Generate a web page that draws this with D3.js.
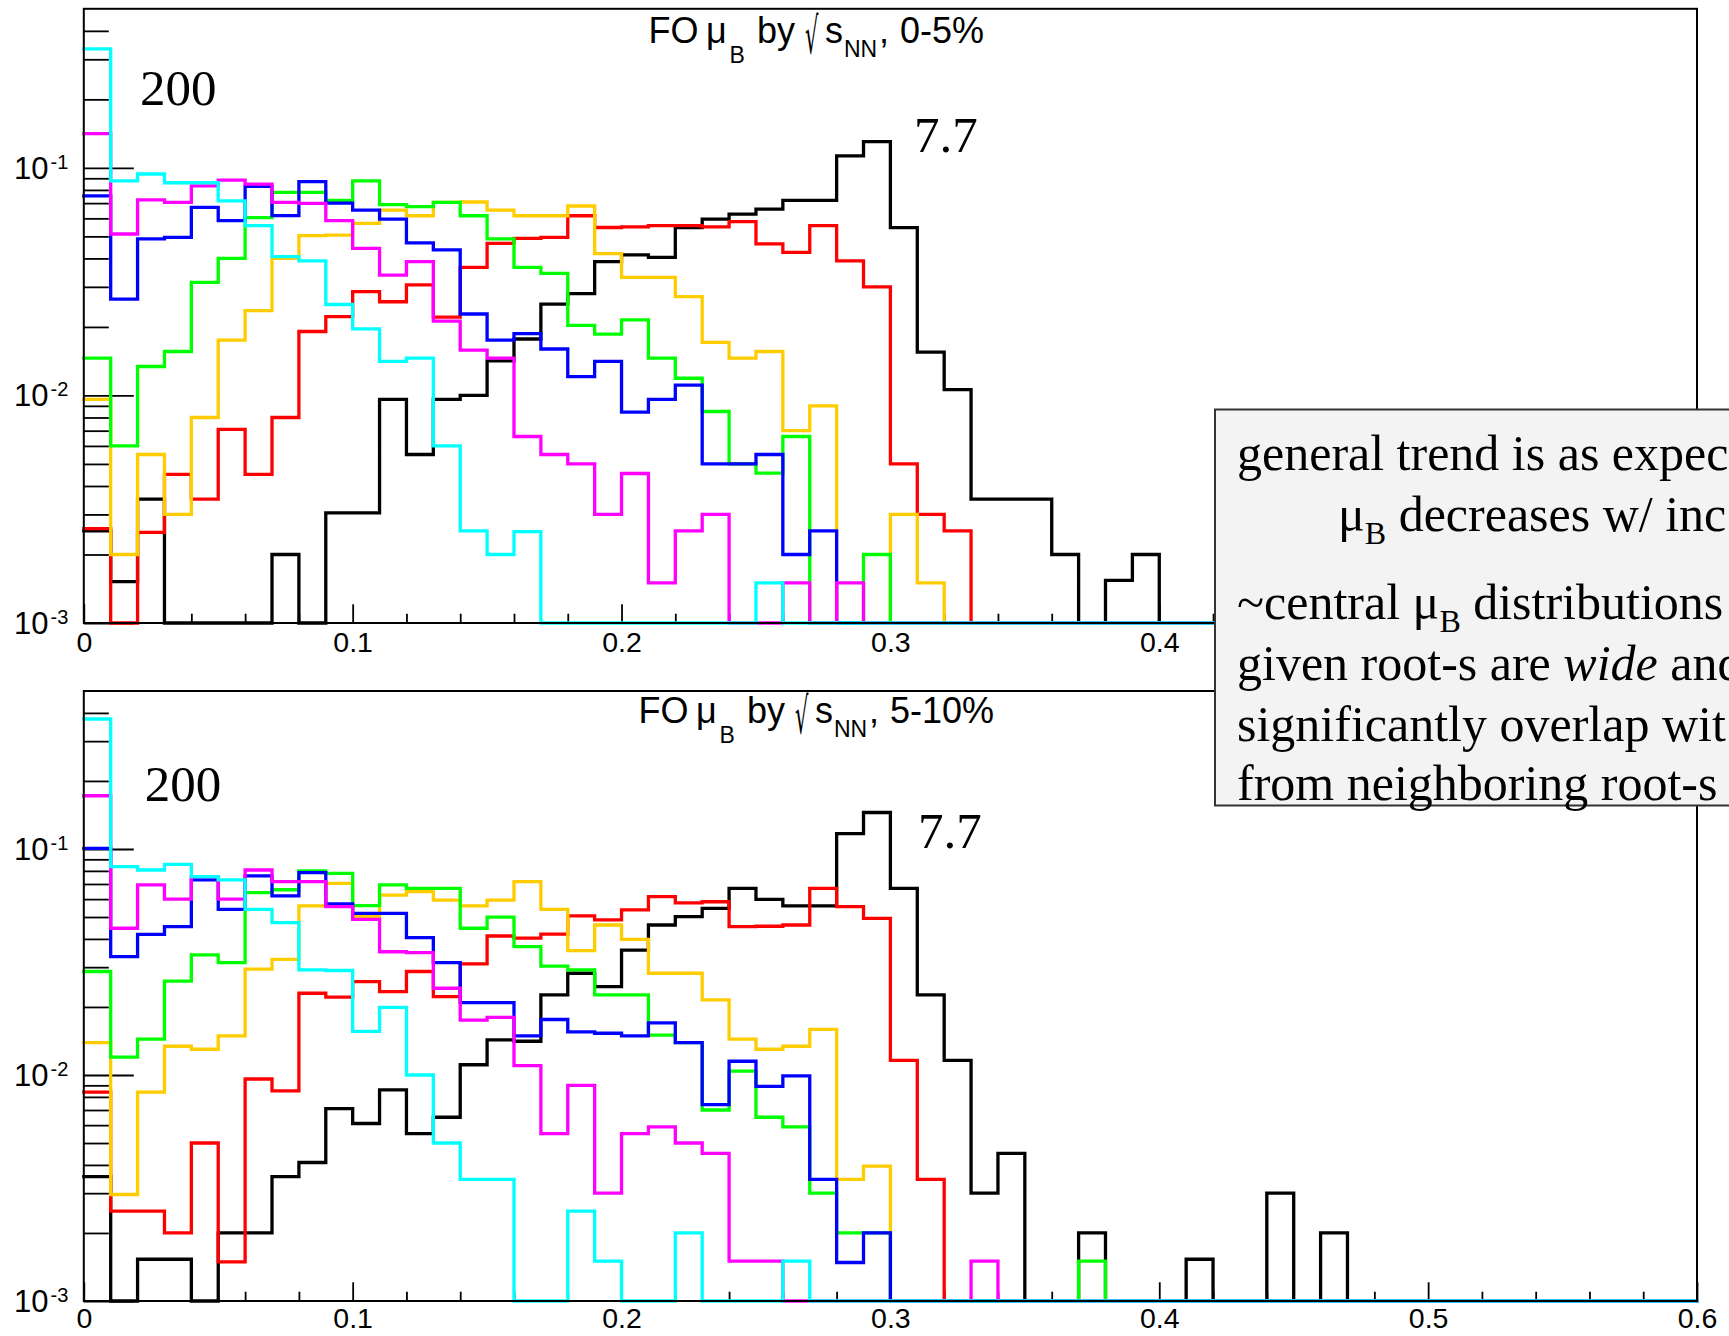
<!DOCTYPE html>
<html>
<head>
<meta charset="utf-8">
<script src="https://cdn.jsdelivr.net/npm/d3@7/dist/d3.min.js"></script>
<style>
html,body{margin:0;padding:0;background:#fff;overflow:hidden;}
svg{display:block;}
</style>
</head>
<body>
<svg id="chart" width="1729" height="1336"></svg>
<script>
// ---------------- data ----------------
const energies = ["7.7","11.5","19.6","27","39","62.4","200"];
const seriesColors = ["#000000","#ff0000","#ffcc00","#00ff00","#0000ff","#ff00ff","#00ffff"];
const binWidth = 0.01;
const xDomain = [0, 0.6];
const yDomain = [0.001, 0.5];
const xMajorTicks = [0, 0.1, 0.2, 0.3, 0.4, 0.5, 0.6];
const xTickLabels = ["0", "0.1", "0.2", "0.3", "0.4", "0.5", "0.6"];
const xMinorTicks = [0.02,0.04,0.06,0.08,0.12,0.14,0.16,0.18,0.22,0.24,0.26,0.28,0.32,0.34,0.36,0.38,0.42,0.44,0.46,0.48,0.52,0.54,0.56,0.58];
const yMajorTicks = [0.001, 0.01, 0.1];
const yTickExponents = ["-3", "-2", "-1"];
const yMinorTicks = [0.002,0.003,0.004,0.005,0.006,0.007,0.008,0.009,0.02,0.03,0.04,0.05,0.06,0.07,0.08,0.09,0.2,0.3,0.4];
const centralityLabels = ["0-5%", "5-10%"];

// 0-5% centrality
const c0005_7p7 = [
 0.00254,0.00152,0.0035,0,0,0,0,0.0020,0,0.00305,
 0.00305,0.0096,0.0055,0.0096,0.010,0.0142,0.0177,0.0252,0.028,0.0387,
 0.0415,0.0404,0.0547,0.0595,0.0626,0.0659,0.072,0.072,0.113,0.1305,
 0.0546,0.0155,0.0106,0.0035,0.0035,0.0035,0.0020,0,0.00154,0.0020,
 0,0,0,0,0,0,0,0,0,0,
 0,0,0,0,0,0,0,0,0,0];
const c0005_11p5 = [
 0.0026,0,0.0025,0.0045,0.0035,0.0071,0.0045,0.0080,0.0191,0.0222,
 0.0286,0.0258,0.0306,0.0221,0.0365,0.0466,0.049,0.0495,0.0616,0.0547,
 0.055,0.0557,0.0557,0.055,0.058,0.0463,0.0425,0.0557,0.039,0.030,
 0.0050,0.0030,0.00254,0,0,0,0,0,0,0,
 0,0,0,0,0,0,0,0,0,0,
 0,0,0,0,0,0,0,0,0,0];
const c0005_19p6 = [
 0.0096,0.0020,0.0055,0.0030,0.0080,0.0175,0.0236,0.040,0.0504,0.0506,
 0.057,0.0652,0.0616,0.0705,0.0708,0.0652,0.0616,0.0616,0.068,0.042,
 0.033,0.033,0.0272,0.0171,0.0146,0.0156,0.0070,0.0090,0,0,
 0.0030,0.0015,0,0,0,0,0,0,0,0,
 0,0,0,0,0,0,0,0,0,0,
 0,0,0,0,0,0,0,0,0,0];
const c0005_27 = [
 0.0146,0.0060,0.0134,0.0156,0.0314,0.040,0.0605,0.078,0.078,0.072,
 0.0877,0.0689,0.0675,0.0705,0.0616,0.0487,0.0365,0.0344,0.0203,0.0186,
 0.0215,0.0146,0.0119,0.0085,0.0050,0.00456,0.0066,0,0,0.0020,
 0,0,0,0,0,0,0,0,0,0,
 0,0,0,0,0,0,0,0,0,0,
 0,0,0,0,0,0,0,0,0,0];
const c0005_39 = [
 0.0753,0.0265,0.0487,0.0495,0.067,0.0586,0.083,0.0617,0.087,0.070,
 0.0652,0.0595,0.0468,0.0436,0.0228,0.0175,0.0187,0.016,0.0121,0.0141,
 0.00845,0.0096,0.0111,0.0050,0.0050,0.0055,0.0020,0.00254,0,0,
 0,0,0,0,0,0,0,0,0,0,
 0,0,0,0,0,0,0,0,0,0,
 0,0,0,0,0,0,0,0,0,0];
const c0005_62p4 = [
 0.1415,0.0512,0.0724,0.0705,0.0834,0.0883,0.0848,0.0705,0.0698,0.0586,
 0.0443,0.0338,0.0387,0.0212,0.0158,0.0146,0.0066,0.0055,0.0050,0.0030,
 0.00454,0.0015,0.00254,0.0030,0,0,0.0015,0,0.0015,0,
 0,0,0,0,0,0,0,0,0,0,
 0,0,0,0,0,0,0,0,0,0,
 0,0,0,0,0,0,0,0,0,0];
const c0005_200 = [
 0.333,0.0877,0.094,0.086,0.086,0.0716,0.0557,0.0407,0.039,0.0251,
 0.0196,0.0141,0.0146,0.0060,0.00254,0.0020,0.00252,0,0,0,
 0,0,0,0,0,0.0015,0,0,0,0,
 0,0,0,0,0,0,0,0,0,0,
 0,0,0,0,0,0,0,0,0,0,
 0,0,0,0,0,0,0,0,0,0];

// 5-10% centrality
const c0510_7p7 = [
 0.00355,0,0.00153,0.00153,0,0.0020,0.0020,0.00355,0.0041,0.0071,
 0.0061,0.0086,0.0055,0.0065,0.0111,0.0143,0.0141,0.0226,0.0282,0.0246,
 0.0357,0.0461,0.0502,0.0546,0.067,0.0598,0.056,0.056,0.117,0.145,
 0.067,0.0226,0.0116,0.0030,0.0045,0,0,0.0020,0,0,
 0,0.00153,0,0,0.0030,0,0.0020,0,0,0,
 0,0,0,0,0,0,0,0,0,0];
const c0510_11p5 = [
 0.0084,0.0025,0.0025,0.0020,0.0050,0.00149,0.0096,0.0085,0.023,0.0221,
 0.0259,0.0234,0.0287,0.0222,0.031,0.0412,0.0403,0.042,0.0506,0.0486,
 0.0538,0.0616,0.0578,0.0584,0.0453,0.0455,0.0461,0.067,0.0556,0.0493,
 0.0116,0.00345,0,0,0,0,0,0,0,0,
 0,0,0,0,0,0,0,0,0,0,
 0,0,0,0,0,0,0,0,0,0];
const c0510_19p6 = [
 0.0139,0.00296,0.0084,0.0134,0.013,0.0149,0.0294,0.0325,0.056,0.0705,
 0.0502,0.0625,0.0647,0.0594,0.056,0.0594,0.0717,0.054,0.0355,0.0461,
 0.0398,0.0282,0.0282,0.0215,0.0144,0.013,0.0134,0.0159,0.00345,0.00395,
 0,0,0,0,0,0,0,0,0,0,
 0,0,0,0,0,0,0,0,0,0,
 0,0,0,0,0,0,0,0,0,0];
const c0510_27 = [
 0.0287,0.012,0.0144,0.026,0.034,0.0314,0.0641,0.066,0.080,0.078,
 0.0561,0.0693,0.067,0.067,0.0446,0.0499,0.037,0.0303,0.0292,0.0226,
 0.0226,0.015,0.0139,0.0070,0.0104,0.0065,0.0059,0.0030,0.0020,0.0020,
 0,0,0,0,0,0,0,0.0015,0,0,
 0,0,0,0,0,0,0,0,0,0,
 0,0,0,0,0,0,0,0,0,0];
const c0510_39 = [
 0.1007,0.0334,0.0419,0.0453,0.073,0.054,0.076,0.062,0.0786,0.0571,
 0.0519,0.0519,0.0405,0.0314,0.0209,0.0209,0.0149,0.0176,0.0155,0.0153,
 0.0149,0.017,0.0139,0.0074,0.0115,0.0089,0.0099,0.00345,0.00148,0.0020,
 0,0,0,0,0,0,0,0,0,0,
 0,0,0,0,0,0,0,0,0,0,
 0,0,0,0,0,0,0,0,0,0];
const c0510_62p4 = [
 0.172,0.0446,0.0693,0.060,0.0755,0.060,0.0807,0.0717,0.0717,0.0556,
 0.0488,0.0351,0.0348,0.0242,0.0175,0.018,0.011,0.0055,0.0090,0.0030,
 0.0055,0.0059,0.0050,0.0045,0.0015,0.0015,0,0,0,0,
 0,0,0,0.0015,0,0,0,0,0,0,
 0,0,0,0,0,0,0,0,0,0,
 0,0,0,0,0,0,0,0,0,0];
const c0510_200 = [
 0.376,0.0836,0.0807,0.0855,0.0755,0.073,0.054,0.0472,0.0292,0.029,
 0.0156,0.0199,0.010,0.0050,0.00345,0.00345,0,0,0.0025,0.0015,
 0,0,0.0020,0,0,0,0.0015,0,0,0,
 0,0,0,0,0,0,0,0,0,0,
 0,0,0,0,0,0,0,0,0,0,
 0,0,0,0,0,0,0,0,0,0];

const noteLines = [
  "general trend is as expec",
  "decreases w/ inc",
  "~central ",
  " distributions",
  "given root-s are ",
  "wide",
  " and",
  "significantly overlap wit",
  "from neighboring root-s"
];

// ---------------- layout ----------------
const SANS = "'Liberation Sans', Arial, Helvetica, sans-serif";
const SERIF = "'Liberation Serif', 'Times New Roman', Times, serif";
const plotLeft = 83.8, plotRight = 1697;
const panels = [
  { top: 8.8, bottom: 623, series: [c0005_7p7,c0005_11p5,c0005_19p6,c0005_27,c0005_39,c0005_62p4,c0005_200],
    titleX: 648.5, titleY: 43, cent: centralityLabels[0], lab200: [140, 105], lab77: [914, 152],
    shownLabels: 5, labelPad: 9 },
  { top: 691, bottom: 1301, series: [c0510_7p7,c0510_11p5,c0510_19p6,c0510_27,c0510_39,c0510_62p4,c0510_200],
    titleX: 638.5, titleY: 723.3, cent: centralityLabels[1], lab200: [144.7, 800.5], lab77: [918, 848],
    shownLabels: 7, labelPad: 7 }
];

const svg = d3.select("#chart");

panels.forEach(p => {
  const x = d3.scaleLinear().domain(xDomain).range([plotLeft, plotRight]);
  const y = d3.scaleLog().domain(yDomain).range([p.bottom, p.top]).clamp(true);
  const g = svg.append("g");

  // x axis: major ticks (labelled where visible) + minor ticks, all pointing inward
  const xAx = g.append("g").attr("transform", `translate(0,${p.bottom})`)
    .call(d3.axisBottom(x).tickValues(xMajorTicks).tickSize(-18.7).tickPadding(p.labelPad)
      .tickFormat((d, i) => i < p.shownLabels ? xTickLabels[i] : ""));
  xAx.select(".domain").remove();
  xAx.selectAll("line").attr("stroke", "#000").attr("stroke-width", 1.8);
  xAx.selectAll("text").attr("font-family", SANS).attr("font-size", 28.5).attr("fill", "#000");
  xAx.selectAll("text").filter(function () { return this.textContent === ""; }).remove();
  const xAxm = g.append("g").attr("transform", `translate(0,${p.bottom})`)
    .call(d3.axisBottom(x).tickValues(xMinorTicks).tickSize(-9.3).tickFormat(""));
  xAxm.select(".domain").remove();
  xAxm.selectAll("text").remove();
  xAxm.selectAll("line").attr("stroke", "#000").attr("stroke-width", 1.8);

  // y axis: major + minor ticks
  const yAx = g.append("g").attr("transform", `translate(${plotLeft},0)`)
    .call(d3.axisLeft(y).tickValues(yMajorTicks).tickSize(-50).tickFormat(""));
  yAx.select(".domain").remove();
  yAx.selectAll("text").remove();
  yAx.selectAll("line").attr("stroke", "#000").attr("stroke-width", 1.8);
  const yAxm = g.append("g").attr("transform", `translate(${plotLeft},0)`)
    .call(d3.axisLeft(y).tickValues(yMinorTicks).tickSize(-25).tickFormat(""));
  yAxm.select(".domain").remove();
  yAxm.selectAll("text").remove();
  yAxm.selectAll("line").attr("stroke", "#000").attr("stroke-width", 1.8);

  // y labels 10^n
  yMajorTicks.forEach((v, i) => {
    const t = g.append("text").attr("font-family", SANS).attr("fill", "#000");
    t.append("tspan").attr("x", 14).attr("y", y(v) + 11).attr("font-size", 31).text("10");
    t.append("tspan").attr("x", 50.5).attr("y", y(v) + 1).attr("font-size", 20).text(yTickExponents[i]);
  });

  // histograms (drawn in order 7.7 ... 200)
  const line = d3.line()
    .x(d => x(d[0]))
    .y(d => y(d[1] > 0 ? d[1] : yDomain[0]))
    .curve(d3.curveStepAfter);
  p.series.forEach((vals, si) => {
    const pts = vals.map((v, i) => [i * binWidth, v]);
    pts.push([vals.length * binWidth, vals[vals.length - 1]]);
    g.append("path").attr("d", line(pts))
      .attr("fill", "none").attr("stroke", seriesColors[si])
      .attr("stroke-width", 3.3).attr("stroke-linejoin", "miter").attr("stroke-linecap", "square");
  });

  // frame
  g.append("rect").attr("x", plotLeft).attr("y", p.top)
    .attr("width", plotRight - plotLeft).attr("height", p.bottom - p.top)
    .attr("fill", "none").attr("stroke", "#000").attr("stroke-width", 2);

  // title: FO mu_B by sqrt(s_NN), cent
  const tx = p.titleX - 648.5, ty = p.titleY;
  const title = g.append("text").attr("font-family", SANS).attr("fill", "#000").attr("font-size", 36);
  title.append("tspan").attr("x", 648.5 + tx).attr("y", ty).text("FO");
  title.append("tspan").attr("x", 706 + tx).attr("y", ty).text("μ");
  title.append("tspan").attr("x", 729.5 + tx).attr("y", ty + 20).attr("font-size", 23).text("B");
  title.append("tspan").attr("x", 757 + tx).attr("y", ty).text("by");
  title.append("tspan").attr("x", 825 + tx).attr("y", ty).text("s");
  title.append("tspan").attr("x", 844 + tx).attr("y", ty + 14).attr("font-size", 23).text("NN");
  title.append("tspan").attr("x", 879 + tx).attr("y", ty).text(",");
  title.append("tspan").attr("x", 900 + tx).attr("y", ty).text(p.cent);
  g.append("text").attr("font-family", "'DejaVu Sans', sans-serif").attr("font-size", 50).attr("fill", "#000")
    .attr("transform", `translate(${805 + tx},${ty + 10}) scale(0.42,1)`).text("√");

  // energy labels
  g.append("text").attr("x", p.lab200[0]).attr("y", p.lab200[1])
    .attr("font-family", SERIF).attr("font-size", 51).attr("fill", "#000").text(energies[6]);
  g.append("text").attr("x", p.lab77[0]).attr("y", p.lab77[1])
    .attr("font-family", SERIF).attr("font-size", 51).attr("fill", "#000").text(energies[0]);
});

// ---------------- annotation box ----------------
const box = svg.append("g");
box.append("rect").attr("x", 1215).attr("y", 409.5).attr("width", 600).attr("height", 396)
  .attr("fill", "#f3f3f3").attr("stroke", "#333").attr("stroke-width", 2);
const tf = { "font-family": SERIF, "font-size": 50, "fill": "#000" };
function tline(xp, yp) {
  const t = box.append("text").attr("x", xp).attr("y", yp);
  Object.entries(tf).forEach(([k, v]) => t.attr(k, v));
  return t;
}
tline(1237, 470).text(noteLines[0]);
{
  const t = tline(1338, 531);
  t.append("tspan").text("μ");
  t.append("tspan").attr("dy", 13).attr("font-size", 32).text("B");
  t.append("tspan").attr("dy", -13).text(" " + noteLines[1]);
}
{
  const t = tline(1237, 619);
  t.append("tspan").text(noteLines[2] + "μ");
  t.append("tspan").attr("dy", 13).attr("font-size", 32).text("B");
  t.append("tspan").attr("dy", -13).text(noteLines[3]);
}
{
  const t = tline(1237, 680);
  t.append("tspan").text(noteLines[4]);
  t.append("tspan").attr("font-style", "italic").text(noteLines[5]);
  t.append("tspan").text(noteLines[6]);
}
tline(1237, 741).text(noteLines[7]);
tline(1237, 800).text(noteLines[8]);
</script>
</body>
</html>
